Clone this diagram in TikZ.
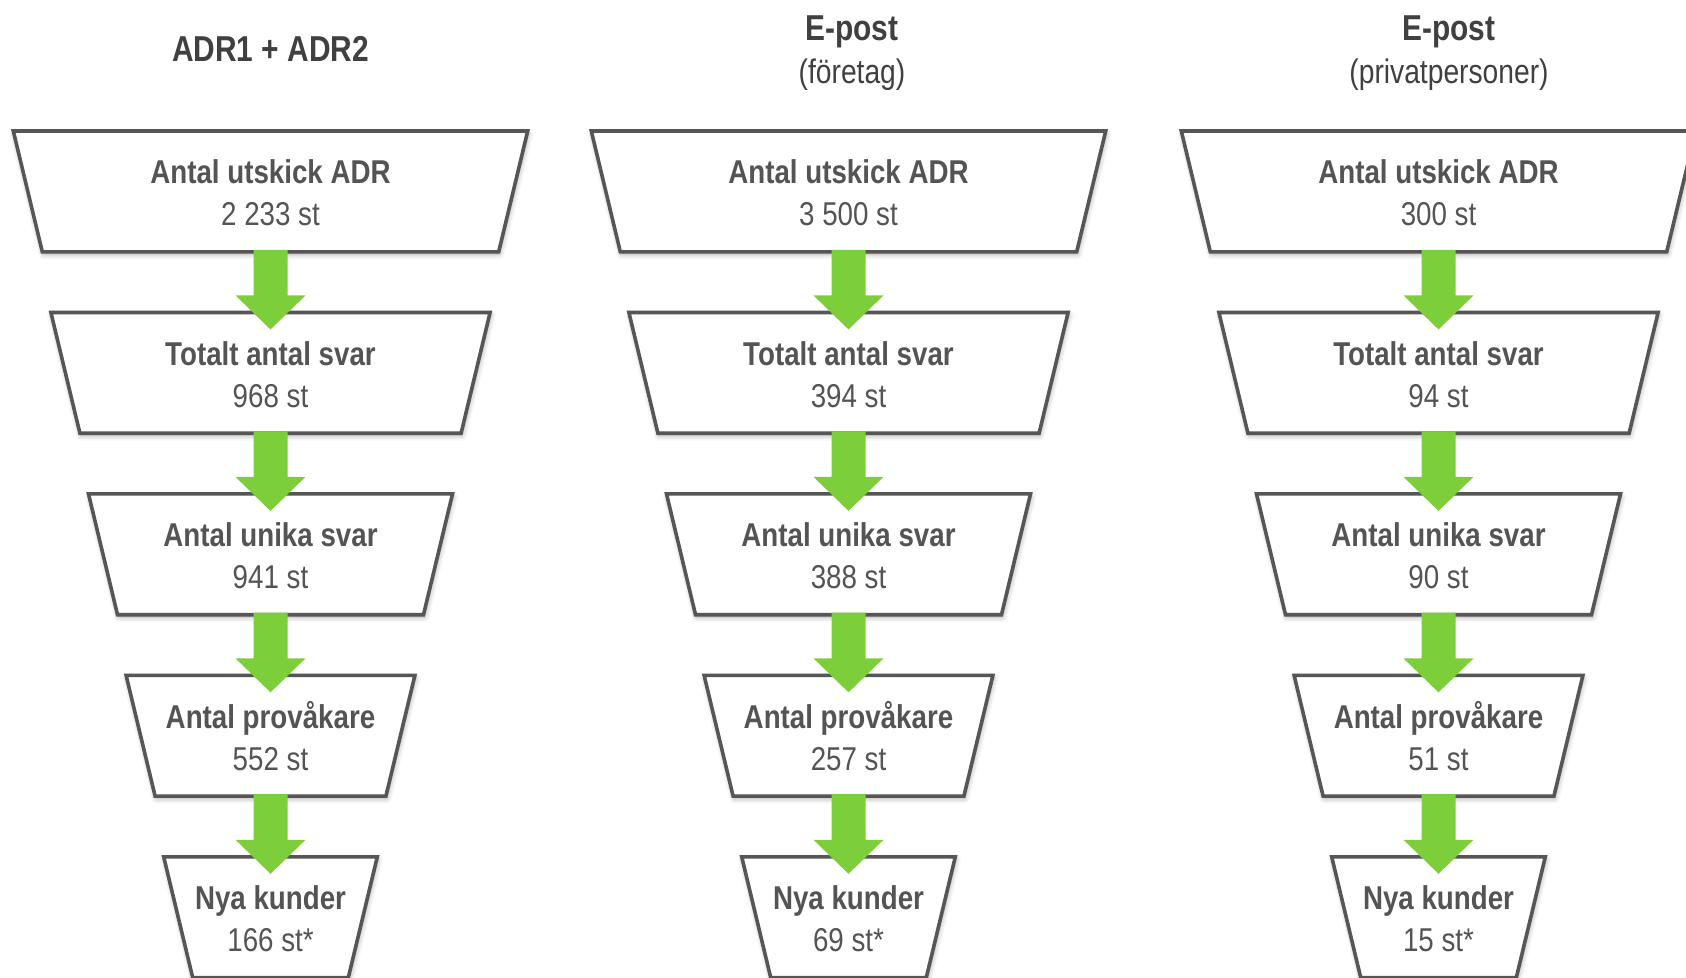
\documentclass[tikz,border=0pt]{standalone}
\usepackage{fontspec}
\setmainfont{Liberation Sans}[FakeStretch=0.84]
\newfontfamily\titlefont{Liberation Sans}[FakeStretch=0.83]
\usetikzlibrary{calc,shadows.blur}
\definecolor{boxline}{RGB}{86,86,86}
\definecolor{boxtext}{RGB}{84,84,84}
\definecolor{titletext}{RGB}{64,64,64}
\definecolor{arrowgreen}{RGB}{124,207,58}
\pgfdeclarelayer{bg}
\pgfsetlayers{bg,main}
\tikzset{
  boxnode/.style={inner sep=0pt, minimum height=120.4pt, align=center, text=boxtext,
    font=\fontsize{33}{42}\selectfont},
  r1/.style={boxnode, minimum width=456pt},
  r2/.style={boxnode, minimum width=380.8pt},
  r3/.style={boxnode, minimum width=305.6pt},
  r4/.style={boxnode, minimum width=230.4pt},
  r5/.style={boxnode, minimum width=155.2pt},
  funnel/.style={draw=boxline, line width=3.6pt, fill=white, line join=miter,
    blur shadow={shadow xshift=1pt, shadow yshift=-2.5pt, shadow blur radius=5pt, shadow opacity=35}},
  flow/.style={fill=arrowgreen},
  titlenode/.style={anchor=base, text=titletext, font=\titlefont\bfseries\fontsize{36}{40}\selectfont},
  subtitlenode/.style={anchor=base, text=titletext, font=\titlefont\fontsize{34}{40}\selectfont},
}
\newcommand\boxlabel[2]{\rule{0pt}{27pt}\textbf{#1}\\#2}
\newcommand\drawfunnel[1]{%
  \begin{pgfonlayer}{bg}
    \path[funnel] ([xshift=-29pt]#1.north west) -- ([xshift=29pt]#1.north east)
      -- (#1.south east) -- (#1.south west) -- cycle;
  \end{pgfonlayer}}
\newcommand\flowarrow[2]{%
  \fill[flow] ($(#1.south)+(-17,-2)$) -- ($(#2.north)+(-17,-17)$) -- ($(#2.north)+(-35,-17)$)
    -- ($(#2.north)+(0,17)$) -- ($(#2.north)+(35,-17)$) -- ($(#2.north)+(17,-17)$)
    -- ($(#1.south)+(17,-2)$) -- cycle;}
\begin{document}
\begin{tikzpicture}[x=1pt,y=-1pt]
\useasboundingbox (0,0) rectangle (1686,977);
% titles
\node[titlenode] (t1) at (270.5,61) {ADR1 + ADR2};
\node[titlenode] (t2) at (852,40) {E-post};
\node[subtitlenode] (s2) at (852,83) {(företag)};
\node[titlenode] (t3) at (1449,40) {E-post};
\node[subtitlenode] (s3) at (1449,83) {(privatpersoner)};
% column 1
\node[r1] (a1) at (270.5,191.4) {\boxlabel{Antal utskick ADR}{2 233 st}};
\node[r2] (a2) at (270.5,372.85) {\boxlabel{Totalt antal svar}{968 st}};
\node[r3] (a3) at (270.5,554.3) {\boxlabel{Antal unika svar}{941 st}};
\node[r4] (a4) at (270.5,735.75) {\boxlabel{Antal provåkare}{552 st}};
\node[r5] (a5) at (270.5,917.2) {\boxlabel{Nya kunder}{166 st*}};
% column 2
\node[r1] (b1) at (848.5,191.4) {\boxlabel{Antal utskick ADR}{3 500 st}};
\node[r2] (b2) at (848.5,372.85) {\boxlabel{Totalt antal svar}{394 st}};
\node[r3] (b3) at (848.5,554.3) {\boxlabel{Antal unika svar}{388 st}};
\node[r4] (b4) at (848.5,735.75) {\boxlabel{Antal provåkare}{257 st}};
\node[r5] (b5) at (848.5,917.2) {\boxlabel{Nya kunder}{69 st*}};
% column 3
\node[r1] (c1) at (1438.5,191.4) {\boxlabel{Antal utskick ADR}{300 st}};
\node[r2] (c2) at (1438.5,372.85) {\boxlabel{Totalt antal svar}{94 st}};
\node[r3] (c3) at (1438.5,554.3) {\boxlabel{Antal unika svar}{90 st}};
\node[r4] (c4) at (1438.5,735.75) {\boxlabel{Antal provåkare}{51 st}};
\node[r5] (c5) at (1438.5,917.2) {\boxlabel{Nya kunder}{15 st*}};
% funnel shapes
\foreach \c in {a,b,c}{\foreach \r in {1,...,5}{\drawfunnel{\c\r}}}
% arrows
\foreach \c in {a,b,c}{\foreach \r [evaluate=\r as \n using int(\r+1)] in {1,...,4}{\flowarrow{\c\r}{\c\n}}}
\end{tikzpicture}
\end{document}
